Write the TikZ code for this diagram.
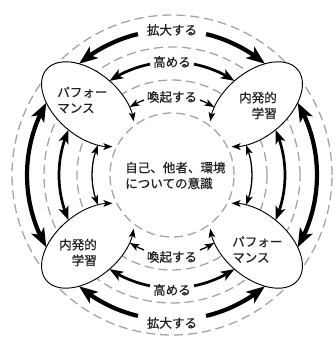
\documentclass[tikz,border=0pt]{standalone}
\usepackage{fontspec}
\newfontfamily\jpfont[FakeBold=0.5]{Noto Sans CJK JP}
\usetikzlibrary{arrows.meta,bending}
\begin{document}
\begin{tikzpicture}[x=0.3mm,y=0.3mm,
  dashc/.style={draw=black!36, line width=1.1pt, dash pattern=on 2.7mm off 1.5mm},
  thickarc/.style={line width=3.6pt, -{Stealth[length=5.6mm,width=4.2mm,inset=1.4mm]}},
  medarc/.style={line width=2.3pt, -{Stealth[length=4.1mm,width=3mm,inset=1mm]}},
  thinarc/.style={line width=1.1pt, -{Stealth[length=2.9mm,width=2.1mm,inset=0.7mm]}},
  thickdbl/.style={line width=3.6pt, {Stealth[length=5.6mm,width=4.2mm,inset=1.4mm]}-{Stealth[length=5.6mm,width=4.2mm,inset=1.4mm]}},
  meddbl/.style={line width=2.3pt, {Stealth[length=4.1mm,width=3mm,inset=1mm]}-{Stealth[length=4.1mm,width=3mm,inset=1mm]}},
  thindbl/.style={line width=1.1pt, {Stealth[length=2.9mm,width=2.1mm,inset=0.7mm]}-{Stealth[length=2.9mm,width=2.1mm,inset=0.7mm]}},
  blobline/.style={line width=0.8pt, {Stealth[length=2.7mm,width=2mm,inset=0.6mm]}-{Stealth[length=2.7mm,width=2mm,inset=0.6mm]}},
  lbl/.style={font=\jpfont\fontsize{10.7}{13.5}\selectfont, inner sep=0pt, text=black!88},
]
\useasboundingbox (-172,-162) rectangle (163,175);

% dashed rings
\draw[dashc] (0,0) circle[radius=160];
\draw[dashc] (0,0) circle[radius=128];
\draw[dashc] (0,0) circle[radius=95];

% blob fills
\foreach \ang in {40,140,220,320} {
  \begin{scope}[shift={(\ang:110)}, rotate=\ang+180]
    \fill[white] (0,0) ellipse[x radius=54, y radius=32];
  \end{scope}
}

% inner circle
\draw[dashc] (0,0) circle[radius=62];

% blob outlines with arrows into the inner circle
\foreach \ang in {40,140,220,320} {
  \begin{scope}[shift={(\ang:110)}, rotate=\ang+180]
    \draw[blobline] (31.2:54 and 32) arc[start angle=31.2, end angle=328.8, x radius=54, y radius=32];
  \end{scope}
}

% labels
\node[lbl] (t1) at (0,145) {拡大する};
\node[lbl] (t2) at (0,113) {高める};
\node[lbl] (t3) at (0,78) {喚起する};
\node[lbl] (b3) at (0,-82) {喚起する};
\node[lbl] (b2) at (0,-115) {高める};
\node[lbl] (b1) at (0,-148) {拡大する};

\node[lbl, align=left, anchor=west] (pTL) at (-115,75) {パフォー\\マンス};
\node[lbl, align=right, anchor=east] (lTR) at (105,69.5) {内発的\\学習};
\node[lbl, align=right, anchor=east] (lBL) at (-75,-77.5) {内発的\\学習};
\node[lbl, align=left, anchor=west] (pBR) at (60,-74.5) {パフォー\\マンス};
\node[lbl, align=left, anchor=west] (ctr) at (-47,-0.5) {自己、他者、環境\\についての意識};

% top arcs
\coordinate (tkL) at (103.6:145); \draw[thickarc] (tkL) arc[start angle=103.6, end angle=129.9, radius=145];
\coordinate (tkR) at (76.4:145);  \draw[thickarc] (tkR) arc[start angle=76.4, end angle=50.1, radius=145];
\coordinate (tmL) at (101.2:113); \draw[medarc] (tmL) arc[start angle=101.2, end angle=123.6, radius=113];
\coordinate (tmR) at (78.8:113);  \draw[medarc] (tmR) arc[start angle=78.8, end angle=56.4, radius=113];
\coordinate (tnL) at (110.5:80);  \draw[thinarc] (tnL) arc[start angle=110.5, end angle=121.9, radius=80];
\coordinate (tnR) at (69.5:80);   \draw[thinarc] (tnR) arc[start angle=69.5, end angle=58.1, radius=80];

% bottom arcs
\coordinate (bkL) at (256.4:145); \draw[thickarc] (bkL) arc[start angle=256.4, end angle=230.1, radius=145];
\coordinate (bkR) at (283.6:145); \draw[thickarc] (bkR) arc[start angle=283.6, end angle=309.9, radius=145];
\coordinate (bmL) at (258.8:113); \draw[medarc] (bmL) arc[start angle=258.8, end angle=236.4, radius=113];
\coordinate (bmR) at (281.2:113); \draw[medarc] (bmR) arc[start angle=281.2, end angle=303.6, radius=113];
\coordinate (bnL) at (249.5:80);  \draw[thinarc] (bnL) arc[start angle=249.5, end angle=238.1, radius=80];
\coordinate (bnR) at (290.5:80);  \draw[thinarc] (bnR) arc[start angle=290.5, end angle=301.9, radius=80];

% side double arrows
\coordinate (lk) at (150.1:145); \draw[thickdbl] (lk) arc[start angle=150.1, end angle=209.9, radius=145];
\coordinate (lm) at (156.4:113); \draw[meddbl] (lm) arc[start angle=156.4, end angle=203.6, radius=113];
\coordinate (ln) at (158.1:80);  \draw[thindbl] (ln) arc[start angle=158.1, end angle=201.9, radius=80];
\coordinate (rk) at (29.9:145);  \draw[thickdbl] (rk) arc[start angle=29.9, end angle=-29.9, radius=145];
\coordinate (rm) at (23.6:113);  \draw[meddbl] (rm) arc[start angle=23.6, end angle=-23.6, radius=113];
\coordinate (rn) at (21.9:80);   \draw[thindbl] (rn) arc[start angle=21.9, end angle=-21.9, radius=80];
\end{tikzpicture}
\end{document}
